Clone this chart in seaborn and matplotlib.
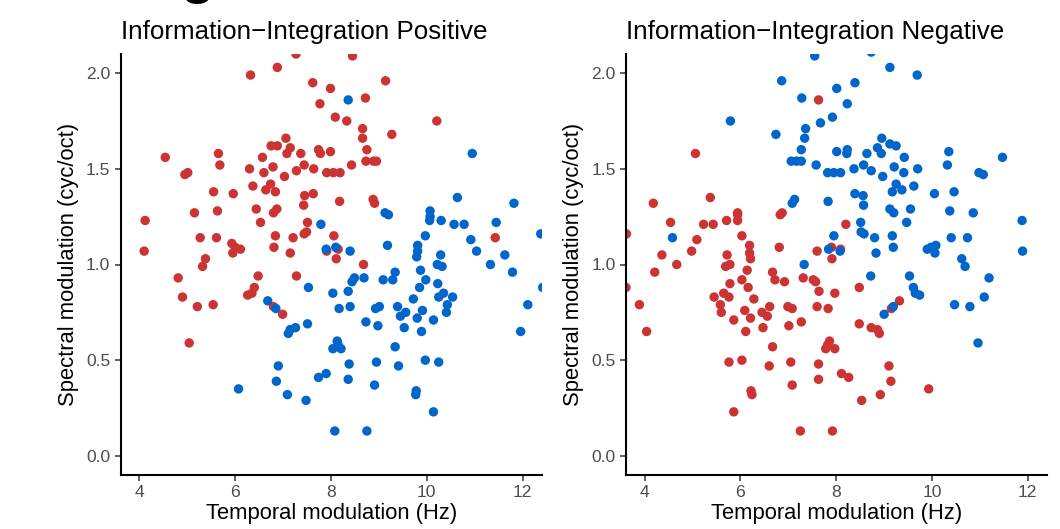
import matplotlib
matplotlib.use("Agg")
import matplotlib.pyplot as plt
import seaborn as sns
import pandas as pd

# ---------------- data ----------------
titles = ["Information\u2212Integration Positive", "Information\u2212Integration Negative"]
x_label = "Temporal modulation (Hz)"
y_label = "Spectral modulation (cyc/oct)"
x_ticks = [4, 6, 8, 10, 12]
y_ticks = [0.0, 0.5, 1.0, 1.5, 2.0]

pos_red = [
    (7.27, 2.10), (8.45, 2.09), (6.32, 1.99), (6.88, 2.03), (7.62, 1.95), (7.99, 1.92),
    (9.14, 1.96), (7.77, 1.84), (8.72, 1.87), (8.09, 1.77), (8.33, 1.75), (10.21, 1.75),
    (8.66, 1.71), (8.66, 1.66), (9.27, 1.68), (8.75, 1.60), (8.73, 1.54), (8.89, 1.54),
    (8.95, 1.54), (7.06, 1.66), (6.75, 1.62), (6.88, 1.62), (7.15, 1.61), (7.08, 1.58),
    (7.37, 1.58), (7.74, 1.60), (7.78, 1.58), (7.99, 1.59), (8.43, 1.52), (5.65, 1.58),
    (4.54, 1.56), (5.68, 1.52), (6.57, 1.56), (6.30, 1.50), (6.79, 1.51), (6.60, 1.48),
    (7.03, 1.46), (7.28, 1.49), (7.44, 1.52), (7.64, 1.50), (7.91, 1.48), (8.05, 1.48),
    (8.19, 1.48), (4.95, 1.47), (5.01, 1.48), (6.37, 1.41), (6.74, 1.42), (6.64, 1.39),
    (6.84, 1.38), (5.55, 1.38), (5.96, 1.37), (7.45, 1.36), (7.63, 1.37), (7.43, 1.31),
    (8.18, 1.33), (8.88, 1.34), (8.91, 1.32), (5.15, 1.27), (5.63, 1.28), (6.44, 1.29),
    (6.87, 1.29), (6.80, 1.27), (6.53, 1.22), (7.51, 1.22), (4.12, 1.23), (5.27, 1.14),
    (5.61, 1.14), (6.84, 1.15), (7.21, 1.14), (7.44, 1.16), (7.49, 1.17), (8.06, 1.15),
    (11.43, 1.14), (4.10, 1.07), (5.93, 1.11), (6.00, 1.09), (6.11, 1.08), (5.95, 1.06),
    (6.81, 1.09), (7.15, 1.06), (7.91, 1.07), (8.15, 1.08), (8.11, 1.03), (5.38, 1.03),
    (5.32, 0.99), (4.81, 0.93), (6.48, 0.94), (7.28, 0.94), (8.68, 1.00), (6.40, 0.88),
    (6.35, 0.85), (6.26, 0.84), (4.90, 0.83), (5.21, 0.78), (5.54, 0.79), (6.80, 0.78),
    (6.99, 0.74), (5.04, 0.59),
]

pos_blue = [
    (8.36, 1.86), (10.95, 1.58), (10.64, 1.35), (11.82, 1.32), (9.13, 1.27), (9.20, 1.26),
    (10.07, 1.28), (10.07, 1.25), (10.06, 1.23), (10.30, 1.23), (10.57, 1.21), (10.78, 1.21),
    (11.45, 1.22), (7.79, 1.21), (9.97, 1.15), (10.92, 1.13), (12.38, 1.16), (9.18, 1.10),
    (9.81, 1.10), (9.81, 1.07), (9.79, 1.04), (11.04, 1.07), (10.29, 1.05), (11.63, 1.05),
    (8.10, 1.09), (7.90, 1.08), (8.40, 1.07),
    (10.22, 1.00), (10.32, 0.99), (11.33, 1.00), (11.79, 0.96), (12.42, 0.88), (9.87, 0.97),
    (9.34, 0.96), (9.29, 0.92), (9.09, 0.92), (8.69, 0.93), (8.49, 0.93), (8.44, 0.91),
    (9.98, 0.92), (10.23, 0.90), (9.85, 0.88), (7.53, 0.88), (8.04, 0.85), (8.36, 0.86),
    (6.68, 0.81), (6.85, 0.77), (8.17, 0.77), (8.40, 0.78), (9.72, 0.82), (10.35, 0.85),
    (10.25, 0.83), (10.54, 0.83), (8.93, 0.77), (9.01, 0.78), (9.39, 0.78), (9.56, 0.75),
    (9.45, 0.73), (9.91, 0.76), (10.43, 0.79), (10.41, 0.75), (12.11, 0.79), (9.80, 0.72),
    (10.14, 0.71), (8.73, 0.70), (8.98, 0.68), (7.51, 0.69), (7.26, 0.67), (7.15, 0.66),
    (7.11, 0.64), (9.53, 0.67), (9.89, 0.65), (11.96, 0.65), (8.13, 0.60), (8.04, 0.56),
    (8.21, 0.56), (8.15, 0.58), (9.34, 0.57), (9.97, 0.50), (10.25, 0.49), (8.38, 0.48),
    (8.95, 0.49), (9.41, 0.47), (6.90, 0.47), (7.74, 0.41), (7.90, 0.43), (8.36, 0.40),
    (6.86, 0.39), (8.91, 0.37), (6.07, 0.35), (7.09, 0.32), (7.48, 0.29), (9.78, 0.34),
    (9.77, 0.32), (10.14, 0.23), (8.08, 0.13), (8.75, 0.13),
]

neg_blue = [
    (7.55, 2.09), (8.73, 2.11), (9.12, 2.03), (9.69, 1.99), (6.86, 1.96), (8.39, 1.95),
    (8.01, 1.92), (7.28, 1.87), (8.23, 1.84), (5.79, 1.75), (7.67, 1.74), (7.92, 1.77),
    (7.36, 1.71), (6.74, 1.68), (7.34, 1.66), (8.95, 1.66), (8.86, 1.61), (8.94, 1.58),
    (9.12, 1.63), (9.25, 1.62), (7.27, 1.60), (8.01, 1.59), (8.23, 1.60), (8.22, 1.58),
    (8.64, 1.58), (9.42, 1.56), (10.35, 1.59), (11.47, 1.56), (7.06, 1.54), (7.17, 1.54),
    (7.27, 1.54), (7.58, 1.52), (7.82, 1.48), (7.95, 1.48), (8.09, 1.48), (8.37, 1.50),
    (8.57, 1.52), (8.73, 1.49), (9.21, 1.51), (9.70, 1.50), (10.32, 1.52), (8.97, 1.46),
    (9.41, 1.48), (10.98, 1.48), (11.07, 1.47), (9.25, 1.42), (9.37, 1.39), (9.62, 1.41),
    (9.17, 1.38), (8.39, 1.37), (8.56, 1.36), (8.57, 1.31), (10.05, 1.37), (10.46, 1.38),
    (7.08, 1.32), (7.13, 1.34), (7.83, 1.33), (9.12, 1.29), (9.20, 1.27), (9.55, 1.29),
    (10.37, 1.28), (10.86, 1.27), (9.47, 1.22), (8.51, 1.22), (8.52, 1.17), (8.58, 1.16),
    (9.17, 1.15), (10.40, 1.14), (10.74, 1.14), (11.88, 1.23), (4.58, 1.14), (7.95, 1.15),
    (8.80, 1.14), (9.90, 1.08), (9.98, 1.09), (10.08, 1.10), (10.06, 1.06), (9.19, 1.09),
    (8.83, 1.06), (7.84, 1.08), (8.08, 1.07), (10.62, 1.03), (11.89, 1.07),
    (7.33, 1.00), (10.69, 0.99), (8.72, 0.94), (9.53, 0.94), (11.19, 0.93), (9.61, 0.88),
    (9.65, 0.85), (9.74, 0.84), (10.47, 0.79), (10.79, 0.78), (11.09, 0.83), (9.00, 0.74),
    (9.19, 0.78), (10.96, 0.59),
]

neg_red = [
    (7.63, 1.86), (5.06, 1.58), (4.18, 1.32), (5.37, 1.35), (5.94, 1.27), (5.94, 1.26),
    (5.94, 1.23), (5.71, 1.23), (5.43, 1.21), (5.23, 1.21), (4.54, 1.22), (6.83, 1.26),
    (6.87, 1.27), (8.20, 1.21), (6.03, 1.15), (5.09, 1.13), (3.62, 1.16), (6.19, 1.10),
    (6.19, 1.06), (6.21, 1.03), (6.81, 1.09), (4.98, 1.07), (5.72, 1.05), (4.36, 1.05),
    (7.60, 1.07), (7.90, 1.09), (8.09, 1.08), (7.91, 1.03),
    (4.67, 1.00), (4.21, 0.96), (5.69, 0.99), (5.78, 1.00), (6.14, 0.97), (6.67, 0.96),
    (6.72, 0.92), (6.92, 0.91), (7.31, 0.93), (7.52, 0.92), (7.57, 0.91), (6.03, 0.92),
    (5.78, 0.90), (6.16, 0.88), (7.64, 0.86), (7.97, 0.85), (8.48, 0.88), (5.65, 0.85),
    (5.76, 0.83), (5.45, 0.83), (6.28, 0.82), (3.89, 0.79), (5.58, 0.79), (5.60, 0.75),
    (6.09, 0.76), (5.86, 0.71), (6.21, 0.72), (6.45, 0.75), (6.56, 0.73), (6.61, 0.78),
    (6.99, 0.78), (7.08, 0.77), (7.60, 0.78), (7.83, 0.77), (7.27, 0.70), (7.01, 0.68),
    (6.47, 0.67), (6.11, 0.65), (4.04, 0.65), (8.48, 0.69), (8.73, 0.67), (8.86, 0.66),
    (8.90, 0.64), (9.32, 0.81), (9.15, 0.77), (7.86, 0.60), (7.82, 0.58), (7.78, 0.56),
    (7.97, 0.56), (6.67, 0.57), (5.76, 0.49), (6.03, 0.50), (6.60, 0.47), (7.05, 0.49),
    (7.63, 0.48), (7.63, 0.40), (7.08, 0.37), (8.11, 0.43), (8.26, 0.41), (9.10, 0.47),
    (9.14, 0.39), (6.22, 0.34), (6.24, 0.32), (5.86, 0.23), (8.53, 0.29), (8.92, 0.32),
    (9.93, 0.35), (7.25, 0.13), (7.92, 0.13), (3.61, 0.88),
]

RED = "#CC3333"
BLUE = "#0066CC"


def make_df(red, blue):
    rows = [(x, y, "red") for x, y in red] + [(x, y, "blue") for x, y in blue]
    return pd.DataFrame(rows, columns=["tm", "sm", "grp"])


panels = [make_df(pos_red, pos_blue), make_df(neg_red, neg_blue)]

# ---------------- figure ----------------
sns.set_theme(style="ticks")
plt.rcParams["font.family"] = ["Liberation Sans", "DejaVu Sans"]

fig = plt.figure(figsize=(10.6, 5.29), dpi=100)
ax_lefts = [120.7 / 1060, 626.0 / 1060]
ax_w = 421.0 / 1060
ax_b = 1 - 475.0 / 529
ax_h = 421.0 / 529

for i, df in enumerate(panels):
    ax = fig.add_axes([ax_lefts[i], ax_b, ax_w, ax_h])
    sns.scatterplot(data=df, x="tm", y="sm", hue="grp",
                    palette={"red": RED, "blue": BLUE},
                    s=46, linewidth=0, alpha=1, legend=False, ax=ax)
    ax.set_xlim(3.61, 12.4)
    ax.set_ylim(-0.1, 2.1)
    ax.set_xticks(x_ticks)
    ax.set_xticklabels([str(t) for t in x_ticks])
    ax.set_yticks(y_ticks)
    ax.set_yticklabels([f"{t:.1f}" for t in y_ticks])
    ax.tick_params(axis="both", labelsize=12.6, labelcolor="#4D4D4D",
                   color="#333333", length=4.5, width=1.1, pad=3)
    for side in ["top", "right"]:
        ax.spines[side].set_visible(False)
    for side in ["left", "bottom"]:
        ax.spines[side].set_linewidth(1.5)
        ax.spines[side].set_color("black")
    ax.set_xlabel(x_label, fontsize=15.8, color="black", labelpad=2)
    ax.set_ylabel(y_label, fontsize=15.8, color="black", labelpad=5)
    ax.set_title(titles[i], loc="left", fontsize=18.7, color="black", pad=11)

# cut-off panel letter at the very top
fig.text(181 / 1060, 1.0 + 7.5 / 529, "g", fontsize=40, fontweight="bold", color="black",
         ha="left", va="baseline")

fig.savefig("out.png", dpi=100)
